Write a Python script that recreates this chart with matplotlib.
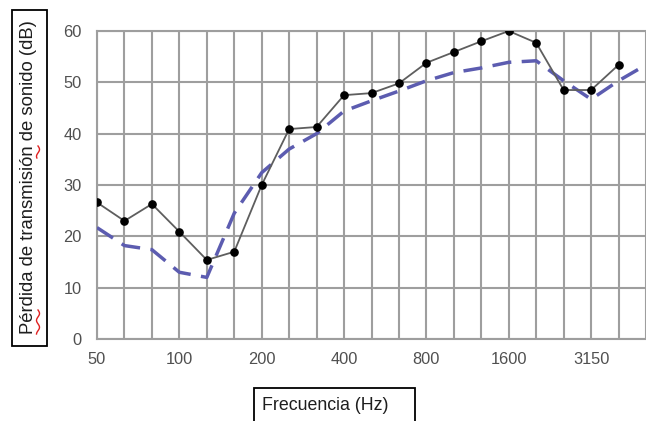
import numpy as np
import matplotlib
matplotlib.use("Agg")
import matplotlib.pyplot as plt
from matplotlib.patches import Rectangle
from matplotlib.lines import Line2D

plt.rcParams['font.family'] = ['Liberation Sans', 'DejaVu Sans']

# third-octave bands (Hz)
BANDS = ['50', '63', '80', '100', '125', '160', '200', '250', '315', '400', '500',
         '630', '800', '1000', '1250', '1600', '2000', '2500', '3150', '4000', '5000']
TICK_LABELS = ['50', '100', '200', '400', '800', '1600', '3150']

# measured transmission loss (dB), one per band up to 4000 Hz
MEASURED = [26.6, 23.0, 26.3, 20.9, 15.4, 17.0, 30.0, 40.9, 41.3, 47.5,
            47.9, 49.8, 53.8, 55.9, 58.0, 60.0, 57.7, 48.5, 48.5, 53.4]
# reference curve (dB), all bands
REFERENCE = [21.7, 18.2, 17.4, 13.0, 12.0, 24.5, 32.4, 37.0, 40.0, 44.4, 46.4,
             48.3, 50.3, 51.9, 52.8, 53.9, 54.2, 50.3, 46.7, 50.3, 53.4]

W, H = 646, 421
fig = plt.figure(figsize=(W / 100, H / 100), dpi=100)
ax = fig.add_axes([97 / W, (H - 339) / H, 1 - 97 / W, (339 - 31) / H])

x_ref = np.arange(len(REFERENCE))
x_meas = np.arange(len(MEASURED))

ax.plot(x_ref, REFERENCE, color='#5c5cb0', lw=2.5, dashes=(5.5, 3), zorder=3)
ax.plot(x_meas, MEASURED, color='#5e5e5e', lw=1.3, marker='o', ms=5.2,
        mfc='black', mec='black', zorder=4)

ax.set_xlim(0, 19.68)
ax.set_ylim(0, 60)
ax.set_xticks(np.arange(len(BANDS)))
ax.set_xticklabels([b if b in TICK_LABELS else '' for b in BANDS])
ax.set_yticks(range(0, 61, 10))
ax.tick_params(length=0, labelsize=11.8, labelcolor='#505050')
ax.tick_params(axis='y', pad=11)
ax.tick_params(axis='x', pad=9)
ax.grid(True, color='#9e9e9e', lw=1.5)
ax.set_axisbelow(True)
for side in ['left', 'bottom', 'top']:
    ax.spines[side].set_color('#9e9e9e')
    ax.spines[side].set_linewidth(1.5)
ax.spines['right'].set_visible(False)

# boxed axis titles
fig.add_artist(Rectangle((12 / W, (H - 346) / H), 35 / W, 336 / H,
                         transform=fig.transFigure, fill=False, ec='black', lw=1.3))
fig.text(29 / W, (H - 177) / H, 'Pérdida de transmisión de sonido (dB)', rotation=90,
         ha='center', va='center', fontsize=13.3, color='#1e1e1e')

fig.add_artist(Rectangle((254 / W, -0.02), 161 / W, (H - 388) / H + 0.02,
                         transform=fig.transFigure, fill=False, ec='black', lw=1.3))
fig.text(262 / W, (H - 405) / H, 'Frecuencia (Hz)', ha='left', va='center',
         fontsize=12.8, color='#1e1e1e')

# spell-check squiggles
for y0, y1 in [(310, 334), (146, 158)]:
    t = np.linspace(0, 1, 40)
    yy = y0 + (y1 - y0) * t
    xx = 38 + 1.5 * np.sin(t * (y1 - y0) / 2.2)
    fig.add_artist(Line2D(xx / W, (H - yy) / H, transform=fig.transFigure,
                          color='#e02020', lw=1.0))

fig.savefig('out.png', dpi=100)
